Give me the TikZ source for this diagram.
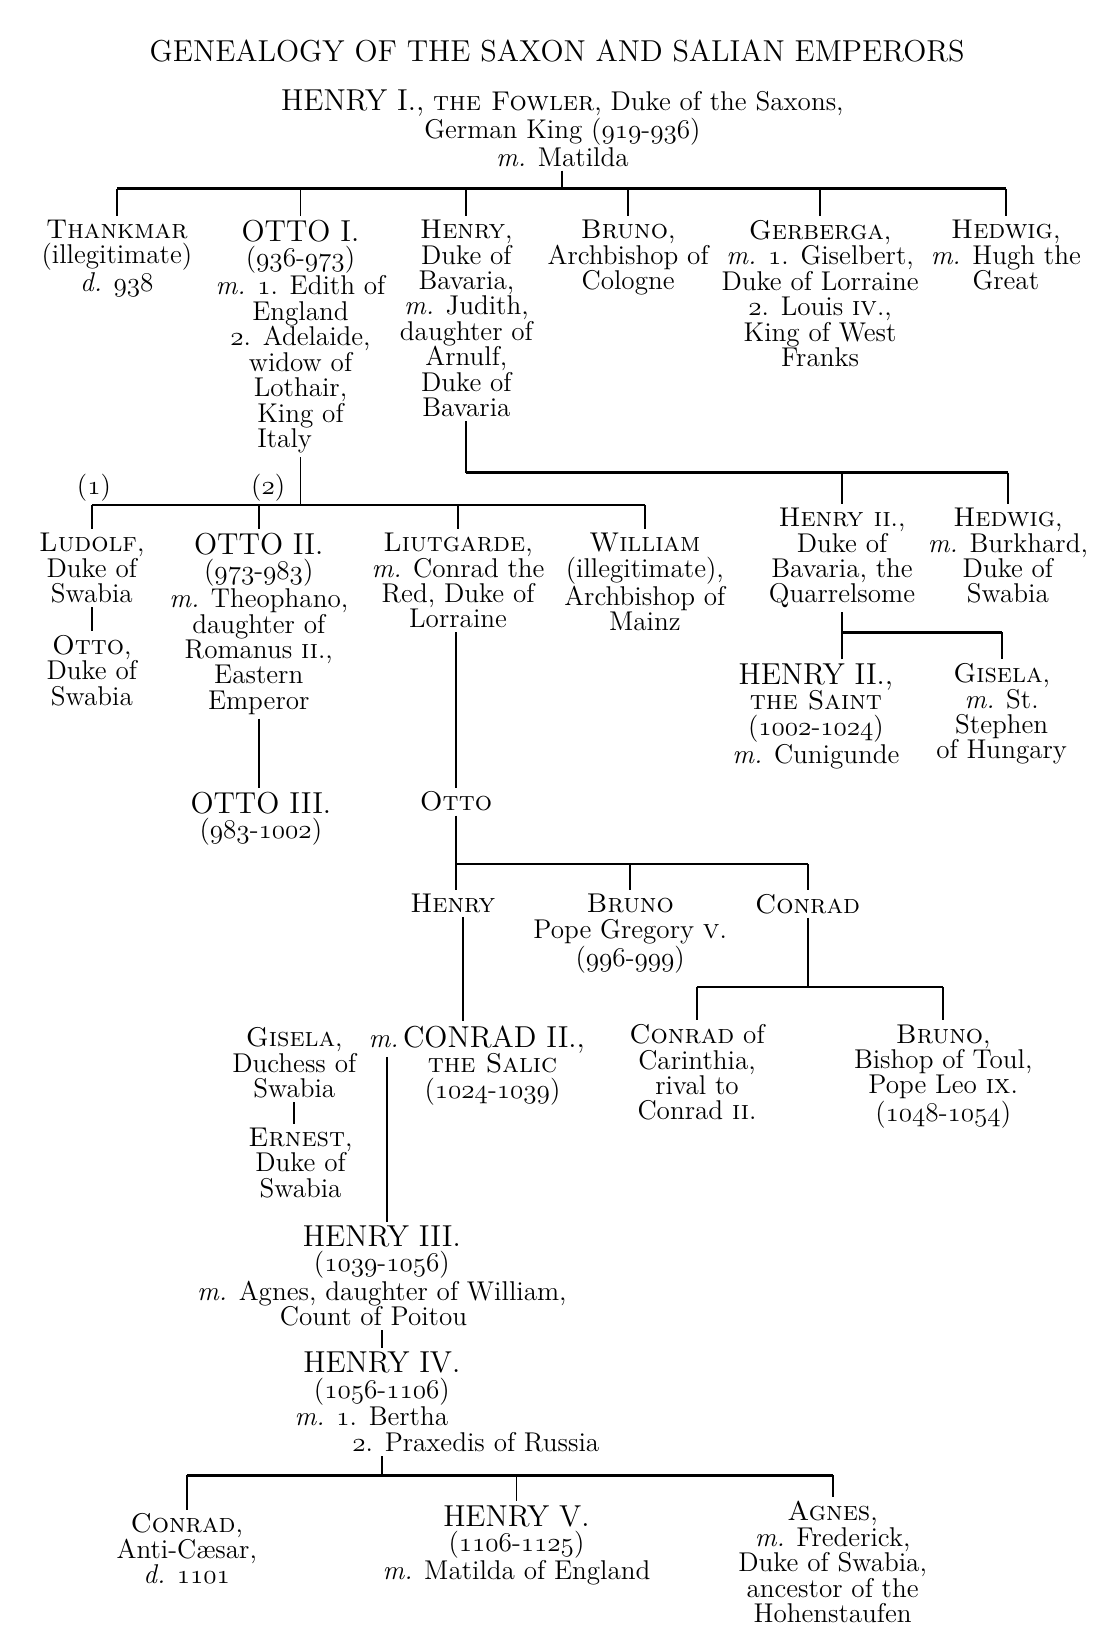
\documentclass[tikz,border=0pt]{standalone}
\usepackage{fix-cm}
\newcommand\osn[1]{{\usefont{OML}{cmm}{m}{it}#1}}
\newcommand\bigname[1]{{\fontsize{14.5}{12.2}\selectfont #1}}
\begin{document}
\begin{tikzpicture}[x=0.5pt, y=-0.5pt, line width=0.9pt,
  person/.style={anchor=north, align=center, inner sep=1.5pt,
    font=\fontsize{13}{12.2}\selectfont},
  bar/.style={line width=1.3pt}]
\useasboundingbox[fill=white] (0,0) rectangle (1053,1568);

% Title
\node[font=\fontsize{14.5}{16}\selectfont] (title) at (534,49) {GENEALOGY OF THE SAXON AND SALIAN EMPERORS};

% Henry I
\node[person] (henryI) at (539,82) {\bigname{HENRY I.,} \textsc{the Fowler}, Duke of the Saxons,\\German King (\osn{919}-\osn{936})\\\textit{m.} Matilda};

% His children
\node[person] (thankmar) at (112,207) {\textsc{Thankmar}\\(illegitimate)\\\textit{d.} \osn{938}};
\node[person] (ottoI) at (288,207) {\bigname{OTTO I.}\\(\osn{936}-\osn{973})\\\textit{m.} \osn{1}. Edith of\\England\\\osn{2}. Adelaide,\\widow of\\Lothair,\\King of\\\rlap{Italy}\phantom{King of}};
\node[person] (henryB) at (447,207) {\textsc{Henry},\\Duke of\\Bavaria,\\\textit{m.} Judith,\\daughter of\\Arnulf,\\Duke of\\Bavaria};
\node[person] (brunoA) at (602,207) {\textsc{Bruno},\\Archbishop of\\Cologne};
\node[person] (gerberga) at (786,207) {\textsc{Gerberga},\\\textit{m.} \osn{1}. Giselbert,\\Duke of Lorraine\\\osn{2}. Louis \textsc{iv}.,\\King of West\\Franks};
\node[person] (hedwigA) at (964,207) {\textsc{Hedwig},\\\textit{m.} Hugh the\\Great};

% Children of Otto I
\node[font=\fontsize{13}{12.2}\selectfont] at (90,467) (one) {(\osn{1})};
\node[font=\fontsize{13}{12.2}\selectfont] at (257,467) (two) {(\osn{2})};
\node[person] (ludolf) at (88,507) {\textsc{Ludolf},\\Duke of\\Swabia};
\node[person] (ottoS) at (88,605) {\textsc{Otto},\\Duke of\\Swabia};
\node[person] (ottoII) at (248,507) {\bigname{OTTO II.}\\(\osn{973}-\osn{983})\\\textit{m.} Theophano,\\daughter of\\Romanus \textsc{ii}.,\\Eastern\\Emperor};
\node[person] (liutgarde) at (439,507) {\textsc{Liutgarde},\\\textit{m.} Conrad the\\Red, Duke of\\Lorraine};
\node[person] (william) at (618,507) {\textsc{William}\\(illegitimate),\\Archbishop of\\Mainz};
\node[person] (ottoIII) at (250,755) {\bigname{OTTO III.}\\(\osn{983}-\osn{1002})};
\node[person] (ottoL) at (437,755) {\textsc{Otto}};

% Children of Henry of Bavaria
\node[person] (henryQ) at (807,483) {\textsc{Henry ii}.,\\Duke of\\Bavaria, the\\Quarrelsome};
\node[person] (hedwigB) at (966,483) {\textsc{Hedwig},\\\textit{m.} Burkhard,\\Duke of\\Swabia};
\node[person] (henrySaint) at (782,632) {\bigname{HENRY II.,}\\\textsc{the Saint}\\(\osn{1002}-\osn{1024})\\\textit{m.} Cunigunde};
\node[person] (giselaH) at (960,632) {\textsc{Gisela},\\\textit{m.} St.\\Stephen\\of Hungary};

% Children of Otto
\node[person] (henryO) at (434,853) {\textsc{Henry}};
\node[person] (brunoP) at (604,853) {\textsc{Bruno}\\Pope Gregory \textsc{v}.\\(\osn{996}-\osn{999})};
\node[person] (conradO) at (774,853) {\textsc{Conrad}};
\node[person] (conradC) at (668,978) {\textsc{Conrad} of\\Carinthia,\\rival to\\Conrad \textsc{ii}.};
\node[person] (brunoT) at (904,978) {\textsc{Bruno},\\Bishop of Toul,\\Pope Leo \textsc{ix}.\\(\osn{1048}-\osn{1054})};

% Salians
\node[person] (conradII) at (472,979) {\textit{m.}\,\bigname{CONRAD II.,}\kern15pt\\\textsc{the Salic}\\(\osn{1024}-\osn{1039})};
\node[person] (giselaD) at (282,981) {\textsc{Gisela},\\Duchess of\\Swabia};
\node[person] (ernest) at (288,1077) {\textsc{Ernest},\\Duke of\\Swabia};
\node[person] (henryIII) at (366,1171) {\bigname{HENRY III.}\\(\osn{1039}-\osn{1056})\\\textit{m.} Agnes, daughter of William,\\Count of Poitou\kern8pt};
\node[person] (henryIV) at (366,1292) {\bigname{HENRY IV.}\\(\osn{1056}-\osn{1106})\\\textit{m.} \osn{1}. Bertha\kern10pt\\\kern90pt\osn{2}. Praxedis of Russia};
\node[person] (conradA) at (179,1447) {\textsc{Conrad},\\Anti-Cæsar,\\\textit{d.} \osn{1101}};
\node[person] (henryV) at (495,1439) {\bigname{HENRY V.}\\(\osn{1106}-\osn{1125})\\\textit{m.} Matilda of England};
\node[person] (agnes) at (798,1435) {\textsc{Agnes},\\\textit{m.} Frederick,\\Duke of Swabia,\\ancestor of the\\Hohenstaufen};

% Bars
\coordinate (b0) at (0,181);
\coordinate (b1) at (0,484);
\coordinate (b2) at (0,453);
\coordinate (b3) at (0,606);
\coordinate (b4) at (0,828);
\coordinate (b5) at (0,946);
\coordinate (b6) at (0,1414);
\coordinate (wed) at (371,1013);

\draw[bar] (thankmar.north |- b0) -- (hedwigA.north |- b0);
\draw[bar] (ludolf.north |- b1) -- (william.north |- b1);
\draw[bar] (henryB.south |- b2) -- (hedwigB.north |- b2);
\draw[bar] (henryQ.north |- b3) -- (giselaH.north |- b3);
\draw[bar] (ottoL.north |- b4) -- (conradO.north |- b4);
\draw[bar] (conradC.north |- b5) -- (brunoT.north |- b5);
\draw[bar] (conradA.north |- b6) -- (agnes.north |- b6);

% Lines of descent
\draw (henryI.south) -- (henryI.south |- b0);
\draw (thankmar.north |- b0) -- (thankmar.north) (ottoI.north |- b0) -- (ottoI.north)
  (henryB.north |- b0) -- (henryB.north) (brunoA.north |- b0) -- (brunoA.north)
  (gerberga.north |- b0) -- (gerberga.north) (hedwigA.north |- b0) -- (hedwigA.north);
\draw (ottoI.south) -- (ottoI.south |- b1);
\draw (ludolf.north |- b1) -- (ludolf.north) (ottoII.north |- b1) -- (ottoII.north)
  (liutgarde.north |- b1) -- (liutgarde.north) (william.north |- b1) -- (william.north);
\draw (ludolf.south) -- (ludolf.south |- ottoS.north);
\draw (ottoII.south) -- (ottoII.south |- ottoIII.north);
\draw (liutgarde.south -| ottoL) -- (ottoL.north);
\draw (henryB.south) -- (henryB.south |- b2);
\draw (henryQ.north |- b2) -- (henryQ.north) (hedwigB.north |- b2) -- (hedwigB.north);
\draw (henryQ.south) -- (henryQ.south |- b3);
\draw (henrySaint.north -| henryQ) -- (henryQ |- b3) (giselaH.north |- b3) -- (giselaH.north);
\draw (ottoL.south) -- (ottoL.south |- b4);
\draw (ottoL.north |- b4) -- (henryO.north -| ottoL) (brunoP.north |- b4) -- (brunoP.north)
  (conradO.north |- b4) -- (conradO.north);
\draw ([xshift=5pt]henryO.south) -- ([xshift=5pt]henryO.south |- conradII.north);
\draw (conradO.south) -- (conradO.south |- b5);
\draw (conradC.north |- b5) -- (conradC.north) (brunoT.north |- b5) -- (brunoT.north);
\draw (giselaD.south) -- (giselaD.south |- ernest.north);
\draw (wed) -- (wed |- henryIII.north);
\draw (henryIII.south) -- (henryIII.south |- henryIV.north);
\draw (henryIV.south) -- (henryIV.south |- b6);
\draw (conradA.north |- b6) -- (conradA.north) (henryV.north |- b6) -- (henryV.north)
  (agnes.north |- b6) -- (agnes.north);
\end{tikzpicture}
\end{document}
